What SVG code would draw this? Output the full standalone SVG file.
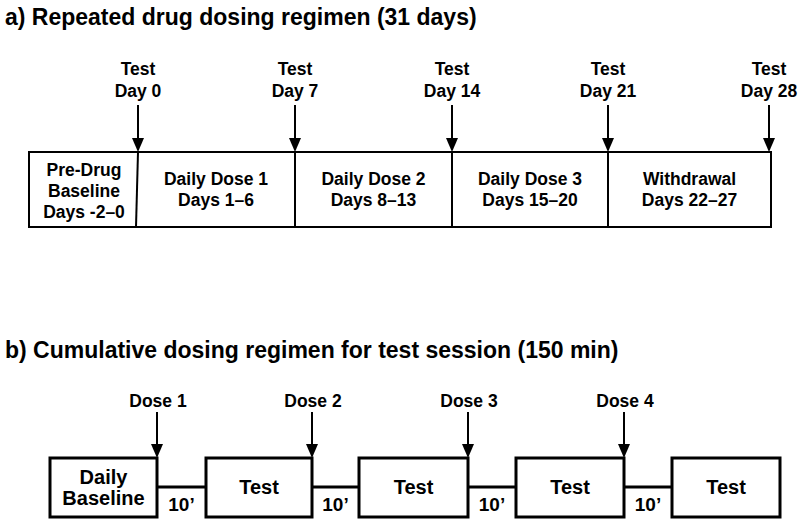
<svg xmlns="http://www.w3.org/2000/svg" width="800" height="524" viewBox="0 0 800 524">
<defs>
<style>
text{font-family:"Liberation Sans",Arial,Helvetica,sans-serif;font-weight:bold;fill:#000;text-anchor:middle}
.title{font-size:23px;text-anchor:start}
.la{font-size:17.5px}
.lb{font-size:17.5px}
.bt{font-size:20px}
.ten{font-size:19px}
.boxa{fill:#fff;stroke:#000;stroke-width:2}
.boxb{fill:#fff;stroke:#000;stroke-width:3}
.arr{stroke:#000;stroke-width:2;fill:none}
.div{stroke:#000;stroke-width:2}
.con{stroke:#000;stroke-width:3}
</style>
<marker id="ah" viewBox="0 0 12 14" refX="6" refY="1" markerWidth="12" markerHeight="14" markerUnits="userSpaceOnUse" orient="0">
<path d="M0,0 L12,0 L6,14 Z" fill="#000"/>
</marker>
</defs>
<rect width="800" height="524" fill="#fff"/>

<text class="title" x="5" y="25">a) Repeated drug dosing regimen (31 days)</text>
<text class="title" x="5" y="358">b) Cumulative dosing regimen for test session (150 min)</text>

<g id="timeline-a">
<rect class="boxa" x="29" y="152" width="742" height="75"/>
</g>
<g id="seg-predrug">
<text class="la" x="84" y="176">Pre-Drug</text>
<text class="la" x="84" y="197">Baseline</text>
<text class="la" x="84" y="218">Days -2–0</text>
</g>
<g id="seg-dose1">
<text class="la" x="216" y="185">Daily Dose 1</text>
<text class="la" x="216" y="206">Days 1–6</text>
</g>
<g id="seg-dose2">
<text class="la" x="373.5" y="185">Daily Dose 2</text>
<text class="la" x="373.5" y="206">Days 8–13</text>
</g>
<g id="seg-dose3">
<text class="la" x="530" y="185">Daily Dose 3</text>
<text class="la" x="530" y="206">Days 15–20</text>
</g>
<g id="seg-withdrawal">
<text class="la" x="689.5" y="185">Withdrawal</text>
<text class="la" x="689.5" y="206">Days 22–27</text>
</g>
<g id="test-labels-a">
<text class="la" x="138" y="75">Test</text><text class="la" x="138" y="97">Day 0</text>
<text class="la" x="295" y="75">Test</text><text class="la" x="295" y="97">Day 7</text>
<text class="la" x="452" y="75">Test</text><text class="la" x="452" y="97">Day 14</text>
<text class="la" x="608" y="75">Test</text><text class="la" x="608" y="97">Day 21</text>
<text class="la" x="769" y="75">Test</text><text class="la" x="769" y="97">Day 28</text>
</g>

<g id="box-baseline">
<rect class="boxb" x="50" y="458" width="107" height="59"/>
<text class="bt" x="103.5" y="484">Daily</text>
<text class="bt" x="103.5" y="505">Baseline</text>
</g>
<g id="box-test1">
<rect class="boxb" x="206" y="458" width="106" height="59"/>
<text class="bt" x="259" y="494">Test</text>
</g>
<g id="box-test2">
<rect class="boxb" x="359" y="458" width="109" height="59"/>
<text class="bt" x="413.5" y="494">Test</text>
</g>
<g id="box-test3">
<rect class="boxb" x="516" y="458" width="108" height="59"/>
<text class="bt" x="570" y="494">Test</text>
</g>
<g id="box-test4">
<rect class="boxb" x="672" y="458" width="108" height="59"/>
<text class="bt" x="726" y="494">Test</text>
</g>
<g id="dose-labels">
<text class="lb" x="158" y="407">Dose 1</text>
<text class="lb" x="313" y="407">Dose 2</text>
<text class="lb" x="469" y="407">Dose 3</text>
<text class="lb" x="625" y="407">Dose 4</text>
</g>

<g id="connectors">
<line class="div" x1="138" y1="152" x2="136" y2="227"/>
<line class="div" x1="295" y1="152" x2="295" y2="227"/>
<line class="div" x1="452" y1="152" x2="452" y2="227"/>
<line class="div" x1="608" y1="152" x2="608" y2="227"/>
<line class="arr" x1="138" y1="105" x2="138" y2="139" marker-end="url(#ah)"/>
<line class="arr" x1="295" y1="105" x2="295" y2="139" marker-end="url(#ah)"/>
<line class="arr" x1="452" y1="105" x2="452" y2="139" marker-end="url(#ah)"/>
<line class="arr" x1="608" y1="105" x2="608" y2="139" marker-end="url(#ah)"/>
<line class="arr" x1="769" y1="105" x2="769" y2="139" marker-end="url(#ah)"/>

<line class="con" x1="157" y1="487" x2="206" y2="487"/>
<line class="con" x1="312" y1="487" x2="359" y2="487"/>
<line class="con" x1="468" y1="487" x2="516" y2="487"/>
<line class="con" x1="624" y1="487" x2="672" y2="487"/>
<text class="ten" x="181.5" y="511">10’</text>
<text class="ten" x="335.5" y="511">10’</text>
<text class="ten" x="492" y="511">10’</text>
<text class="ten" x="648" y="511">10’</text>
<line class="arr" x1="157" y1="412" x2="157" y2="445" marker-end="url(#ah)"/>
<line class="arr" x1="312" y1="412" x2="312" y2="445" marker-end="url(#ah)"/>
<line class="arr" x1="468" y1="412" x2="468" y2="445" marker-end="url(#ah)"/>
<line class="arr" x1="624" y1="412" x2="624" y2="445" marker-end="url(#ah)"/>
</g>
</svg>
